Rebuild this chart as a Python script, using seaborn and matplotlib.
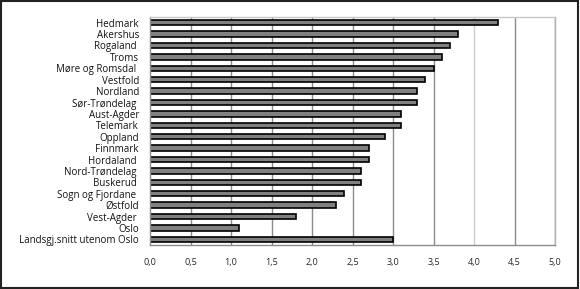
import matplotlib
matplotlib.use("Agg")
import matplotlib.pyplot as plt
import seaborn as sns
import pandas as pd
from matplotlib.patches import Rectangle

categories = ["Hedmark", "Akershus", "Rogaland ", "Troms", "Møre og Romsdal ", "Vestfold",
              "Nordland", "Sør-Trøndelag ", "Aust-Agder", "Telemark", "Oppland", "Finnmark",
              "Hordaland ", "Nord-Trøndelag ", "Buskerud ", "Sogn og Fjordane ", "Østfold",
              "Vest-Agder ", "Oslo", "Landsgj.snitt utenom Oslo"]
values = [4.3, 3.8, 3.7, 3.6, 3.5, 3.4, 3.3, 3.3, 3.1, 3.1, 2.9, 2.7, 2.7, 2.6, 2.6,
          2.4, 2.3, 1.8, 1.1, 3.0]
xticks = [0.0, 0.5, 1.0, 1.5, 2.0, 2.5, 3.0, 3.5, 4.0, 4.5, 5.0]
xticklabels = ["0,0", "0,5", "1,0", "1,5", "2,0", "2,5", "3,0", "3,5", "4,0", "4,5", "5,0"]

df = pd.DataFrame({"region": categories, "value": values})

sns.set_style("white")
plt.rcParams["font.family"] = ["Open Sans", "DejaVu Sans"]

fig = plt.figure(figsize=(5.8, 2.89), dpi=100)
ax = fig.add_axes([150/580, 1 - 245/289, 405/580, 228/289])

sns.barplot(data=df, x="value", y="region", orient="h", color="#808080",
            edgecolor="black", linewidth=1.2, width=0.48, saturation=1, ax=ax)

ax.set_xlim(0, 5.0)
ax.set_ylim(19.5, -0.5)
ax.set_xticks(xticks)
ax.set_xticklabels(xticklabels, fontsize=6.5)
ax.tick_params(axis="y", labelsize=7, length=4, color="#808080", direction="out", pad=4,
               labelcolor="#111111")
ax.tick_params(axis="x", length=3, color="#808080", direction="inout", pad=8)
ax.set_xlabel("")
ax.set_ylabel("")
ax.set_axisbelow(True)
for x in xticks[1:]:
    ax.axvline(x, color="#cfcfcf" if x == 4.0 else "#8c8c8c", linewidth=1.0, zorder=0)
for s in ["left", "bottom", "top", "right"]:
    ax.spines[s].set_visible(True)
    ax.spines[s].set_color("#8c8c8c")
    ax.spines[s].set_linewidth(1.0)
ax.spines["top"].set_color("#c8c8c8")
ax.spines["right"].set_color("#b0b0b0")

fig.patches.append(Rectangle((0.002, 0.004), 0.995, 0.992, transform=fig.transFigure,
                             fill=False, edgecolor="#222222", linewidth=1.5))

fig.savefig("out.png", dpi=100)
